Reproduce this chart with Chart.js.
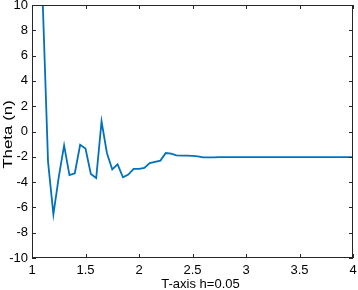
<!DOCTYPE html>
<html>
<head>
<meta charset="utf-8">
<script src="https://cdn.jsdelivr.net/npm/chart.js@4"></script>
<style>
  html, body { margin: 0; padding: 0; background: #fff; }
  #wrap { width: 358px; height: 290px; }
</style>
</head>
<body>
<div id="wrap"><canvas id="myChart" width="358" height="290"></canvas></div>
<script>
// sample points, step h = 0.05
let tValues = [
  1.00, 1.05, 1.10, 1.15, 1.20, 1.25, 1.30, 1.35, 1.40, 1.45,
  1.50, 1.55, 1.60, 1.65, 1.70, 1.75, 1.80, 1.85, 1.90, 1.95,
  2.00, 2.05, 2.10, 2.15, 2.20, 2.25, 2.30, 2.35, 2.40, 2.45,
  2.50, 2.55, 2.60, 2.65, 2.70, 2.75, 2.80, 2.85, 2.90, 2.95,
  3.00, 3.05, 3.10, 3.15, 3.20, 3.25, 3.30, 3.35, 3.40, 3.45,
  3.50, 3.55, 3.60, 3.65, 3.70, 3.75, 3.80, 3.85, 3.90, 3.95,
  4.00
];
let thetaValues = [
  30, 20, 10.3, -2.4, -6.55, -3.6, -1.1, -3.45, -3.3, -1.05,
  -1.35, -3.35, -3.68, 0.8, -1.7, -3.0, -2.6, -3.62, -3.4, -2.95,
  -2.95, -2.87, -2.5, -2.4, -2.3, -1.7, -1.75, -1.88, -1.9, -1.9,
  -1.93, -1.97, -2.04, -2.05, -2.05, -2.03, -2.02, -2.02, -2.02, -2.02,
  -2.02, -2.02, -2.02, -2.02, -2.02, -2.02, -2.02, -2.02, -2.02, -2.02,
  -2.02, -2.02, -2.02, -2.02, -2.02, -2.02, -2.02, -2.02, -2.02, -2.02,
  -2.02
];
let xTickLabels = ['1', '1.5', '2', '2.5', '3', '3.5', '4'];
let yTickLabels = ['-10', '-8', '-6', '-4', '-2', '0', '2', '4', '6', '8', '10'];
let xTitle = 'T-axis h=0.05';
let yTitle = 'Theta (n)';

let axisColor = '#262626';
let font = {family: 'Liberation Sans, Arial, sans-serif', size: 13};

// matlab style box with inward ticks on all four sides, plus axis labels
let boxTicks = {
  id: 'boxTicks',
  afterDraw(chart) {
    let ctx = chart.ctx;
    let a = chart.chartArea;
    let x = chart.scales.x, y = chart.scales.y;
    ctx.save();
    ctx.strokeStyle = axisColor;
    ctx.lineWidth = 1;
    ctx.beginPath();
    x.ticks.forEach(t => {
      let px = Math.round(x.getPixelForValue(t.value)) + 0.5;
      ctx.moveTo(px, a.bottom); ctx.lineTo(px, a.bottom - 4);
      ctx.moveTo(px, a.top); ctx.lineTo(px, a.top + 4);
    });
    y.ticks.forEach(t => {
      let py = Math.round(y.getPixelForValue(t.value)) + 0.5;
      ctx.moveTo(a.left, py); ctx.lineTo(a.left + 4, py);
      ctx.moveTo(a.right, py); ctx.lineTo(a.right - 4, py);
    });
    ctx.stroke();
    ctx.strokeRect(Math.round(a.left) + 0.5, Math.round(a.top) + 0.5,
                   Math.round(a.width) - 1, Math.round(a.height) - 1);

    // titles
    ctx.fillStyle = '#000';
    ctx.font = font.size + 'px ' + font.family;
    ctx.textAlign = 'center';
    ctx.textBaseline = 'middle';
    ctx.fillText(xTitle, (a.left + a.right) / 2 + 8, 284);
    ctx.translate(8.5, (a.top + a.bottom) / 2 + 3);
    ctx.rotate(-Math.PI / 2);
    ctx.scale(1.3, 1);
    ctx.fillText(yTitle, 0, 0);
    ctx.restore();
  }
};

let myChart = document.getElementById('myChart').getContext('2d');

let thetaChart = new Chart(myChart, {
  type: 'line',
  data: {
    datasets: [{
      label: yTitle,
      data: tValues.map((t, i) => ({x: t, y: thetaValues[i]})),
      borderColor: '#0072BD',
      borderWidth: 1.8,
      pointRadius: 0,
      tension: 0,
      fill: false
    }]
  },
  options: {
    responsive: false,
    animation: false,
    layout: {padding: {top: 5, right: 5, left: 0, bottom: 0}},
    plugins: {legend: {display: false}, tooltip: {enabled: false}},
    scales: {
      x: {
        type: 'linear',
        min: 1, max: 4,
        grid: {display: false, drawTicks: false},
        border: {display: false},
        afterFit: s => { s.height = 32; s.paddingLeft = 0; s.paddingRight = 0; },
        ticks: {
          stepSize: 0.5, color: '#000', font: font, padding: 5, maxRotation: 0,
          callback: (v, i) => xTickLabels[i]
        }
      },
      y: {
        min: -10, max: 10,
        grid: {display: false, drawTicks: false},
        border: {display: false},
        afterFit: s => { s.width = 32; s.paddingTop = 0; s.paddingBottom = 0; },
        ticks: {
          stepSize: 2, color: '#000', font: font, padding: 4,
          callback: (v, i) => yTickLabels[i]
        }
      }
    }
  },
  plugins: [boxTicks]
});
</script>
</body>
</html>
